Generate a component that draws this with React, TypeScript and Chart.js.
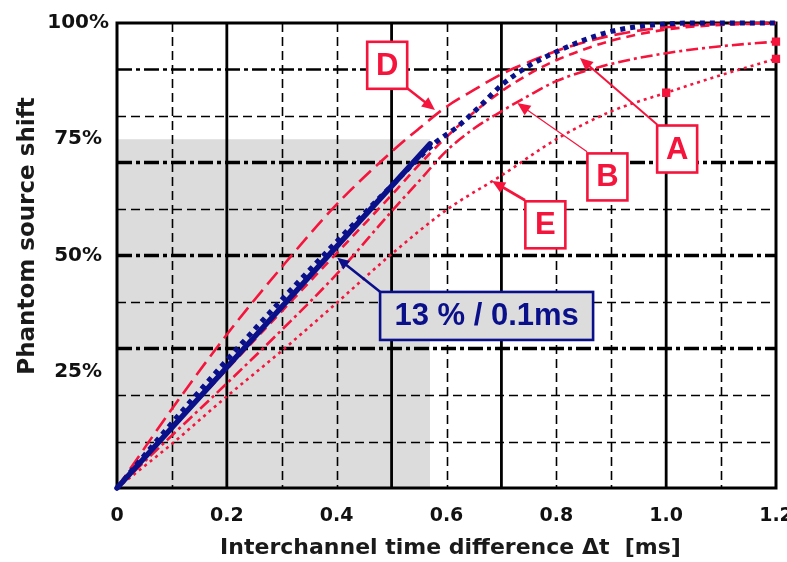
import React, { useEffect, useRef } from 'react';
import { Chart, registerables } from 'chart.js';

Chart.register(...registerables);

// ---- Data ----
const xTicks = [0, 0.2, 0.4, 0.6, 0.8, 1.0, 1.2];
const xTickLabels = ['0', '0.2', '0.4', '0.6', '0.8', '1.0', '1.2'];
const yTicks = [25, 50, 75, 100];
const yTickLabels = ['25%', '50%', '75%', '100%'];

const gridSolidX = [0.2, 0.5, 0.7, 1.0];
const gridDashedX = [0.1, 0.3, 0.4, 0.6, 0.8, 0.9, 1.1];
const gridDashDotY = [30, 50, 70, 90];
const gridDashedY = [10, 20, 40, 60, 80];

const shadeMaxX = 0.57;
const shadeMaxY = 75;

const blueSolidX = [0, 0.57];
const blueSolidY = [0, 74];

const blueDottedX = [0, 0.1, 0.2, 0.3, 0.4, 0.5, 0.58, 0.62, 0.66, 0.7, 0.75, 0.8, 0.85, 0.9, 0.97, 1.05, 1.2];
const blueDottedY = [0, 14, 27.5, 40.5, 53, 65, 74.3, 77.7, 82, 86.6, 90.8, 93.8, 96.3, 98.2, 99.5, 100, 100];

const curveDX = [0, 0.1, 0.2, 0.3, 0.4, 0.5, 0.55, 0.6, 0.65, 0.7, 0.75, 0.8, 0.9, 1.0, 1.1, 1.2];
const curveDY = [0, 17, 33, 47.5, 61, 72.3, 77.3, 82, 85.6, 89, 91.6, 94, 97.3, 99.1, 99.8, 100];

const curveAX = [0, 0.1, 0.2, 0.3, 0.4, 0.5, 0.55, 0.6, 0.65, 0.7, 0.75, 0.8, 0.85, 0.9, 1.0, 1.1, 1.2];
const curveAY = [0, 12.8, 25.5, 38, 50.5, 63, 69.5, 75.5, 80.8, 85.3, 89, 92, 94.3, 96.2, 98.6, 99.6, 99.9];

const curveBX = [0, 0.1, 0.2, 0.3, 0.4, 0.5, 0.55, 0.6, 0.65, 0.7, 0.75, 0.8, 0.9, 1.0, 1.1, 1.2];
const curveBY = [0, 11.3, 22.5, 34, 46, 59.5, 66, 72.5, 77.3, 81, 84.4, 87.5, 91.2, 93.5, 95, 96];

const curveEX = [0, 0.1, 0.2, 0.3, 0.4, 0.5, 0.6, 0.7, 0.8, 0.9, 1.0, 1.1, 1.2];
const curveEY = [0, 9.5, 19.7, 29.5, 39.8, 50.3, 59.8, 67.2, 75, 81, 85, 88.8, 92.3];

const labelNames = ['D', 'A', 'B', 'E'];
const slopeLabel = '13 % / 0.1ms';
const xTitle = 'Interchannel time difference \u0394t  [ms]';
const yTitle = 'Phantom source shift';

// ---- Styles / annotation placement (data coordinates) ----
const NAVY = '#0a0f8a';
const RED = '#f5143c';
const GRAY = '#dcdcdc';

const letterBoxes = [
  { text: 'D', cx: 0.492, cy: 90.9, from: [0.528, 86.0], to: [0.579, 81.3], lw: 2.5 },
  { text: 'A', cx: 1.02, cy: 72.9, from: [0.984, 78.1], to: [0.843, 92.5], lw: 2 },
  { text: 'B', cx: 0.893, cy: 66.9, from: [0.856, 72.3], to: [0.729, 82.8], lw: 1.2 },
  { text: 'E', cx: 0.78, cy: 56.6, from: [0.743, 61.9], to: [0.683, 66.0], lw: 2.8 },
];
const slopeBox = { cx: 0.673, cy: 37.0, w: 213, h: 48, from: [0.479, 42.2], to: [0.401, 49.5] };

const pts = (xs: number[], ys: number[]) => xs.map((x, i) => ({ x, y: ys[i] }));

function drawArrow(ctx: CanvasRenderingContext2D, x1: number, y1: number, x2: number, y2: number, color: string, lw: number, head: number) {
  const ang = Math.atan2(y2 - y1, x2 - x1);
  ctx.save();
  ctx.strokeStyle = color;
  ctx.fillStyle = color;
  ctx.lineWidth = lw;
  ctx.setLineDash([]);
  ctx.beginPath();
  ctx.moveTo(x1, y1);
  ctx.lineTo(x2 - Math.cos(ang) * head * 0.8, y2 - Math.sin(ang) * head * 0.8);
  ctx.stroke();
  ctx.beginPath();
  ctx.moveTo(x2, y2);
  ctx.lineTo(x2 - head * Math.cos(ang) + head * 0.45 * Math.sin(ang), y2 - head * Math.sin(ang) - head * 0.45 * Math.cos(ang));
  ctx.lineTo(x2 - head * Math.cos(ang) - head * 0.45 * Math.sin(ang), y2 - head * Math.sin(ang) + head * 0.45 * Math.cos(ang));
  ctx.closePath();
  ctx.fill();
  ctx.restore();
}

const backdropPlugin = {
  id: 'backdrop',
  beforeDatasetsDraw(chart: any) {
    const { ctx, chartArea: a, scales } = chart;
    const xs = scales.x;
    const ys = scales.y;
    ctx.save();
    // shaded region
    const sx0 = xs.getPixelForValue(0);
    const sx1 = xs.getPixelForValue(shadeMaxX);
    const sy0 = ys.getPixelForValue(shadeMaxY);
    const sy1 = ys.getPixelForValue(0);
    ctx.fillStyle = GRAY;
    ctx.fillRect(sx0, sy0, sx1 - sx0, sy1 - sy0);

    ctx.strokeStyle = '#000';
    // dashed verticals
    ctx.lineWidth = 1.6;
    ctx.setLineDash([9, 5]);
    gridDashedX.forEach((v) => {
      const p = Math.round(xs.getPixelForValue(v)) + 0.5;
      ctx.beginPath(); ctx.moveTo(p, a.top); ctx.lineTo(p, a.bottom); ctx.stroke();
    });
    // dashed horizontals
    gridDashedY.forEach((v) => {
      const p = Math.round(ys.getPixelForValue(v)) + 0.5;
      ctx.beginPath(); ctx.moveTo(a.left, p); ctx.lineTo(a.right, p); ctx.stroke();
    });
    // dash-dot horizontals
    gridDashDotY.forEach((v) => {
      const p = ys.getPixelForValue(v);
      ctx.lineWidth = v === 90 ? 2.6 : 3.6;
      ctx.setLineDash([15, 4, 4, 4]);
      ctx.beginPath(); ctx.moveTo(a.left, p); ctx.lineTo(a.right, p); ctx.stroke();
    });
    // solid verticals
    ctx.setLineDash([]);
    ctx.lineWidth = 2.8;
    gridSolidX.forEach((v) => {
      const p = xs.getPixelForValue(v);
      ctx.beginPath(); ctx.moveTo(p, a.top); ctx.lineTo(p, a.bottom); ctx.stroke();
    });
    // frame
    ctx.lineWidth = 3;
    ctx.strokeRect(a.left, a.top, a.right - a.left, a.bottom - a.top);

    // axis titles
    ctx.fillStyle = '#1a1a1a';
    ctx.font = 'bold 22px "DejaVu Sans", sans-serif';
    ctx.textAlign = 'center';
    ctx.textBaseline = 'middle';
    ctx.fillText(xTitle, (a.left + a.right) / 2 + 4, 548);
    ctx.save();
    ctx.translate(28, 236);
    ctx.rotate(-Math.PI / 2);
    ctx.font = 'bold 23px "DejaVu Sans", sans-serif';
    ctx.fillText(yTitle, 0, 0);
    ctx.restore();
    ctx.restore();
  },
  afterDatasetsDraw(chart: any) {
    const { ctx, scales } = chart;
    const xs = scales.x;
    const ys = scales.y;
    const X = (v: number) => xs.getPixelForValue(v);
    const Y = (v: number) => ys.getPixelForValue(v);
    ctx.save();
    letterBoxes.forEach((b, i) => {
      drawArrow(ctx, X(b.from[0]), Y(b.from[1]), X(b.to[0]), Y(b.to[1]), RED, b.lw, 13);
      const w = 40, h = 47;
      const cx = X(b.cx), cy = Y(b.cy);
      ctx.fillStyle = '#fff';
      ctx.fillRect(cx - w / 2, cy - h / 2, w, h);
      ctx.strokeStyle = RED;
      ctx.lineWidth = 2.6;
      ctx.setLineDash([]);
      ctx.strokeRect(cx - w / 2, cy - h / 2, w, h);
      ctx.fillStyle = RED;
      ctx.font = 'bold 31px "Liberation Sans", Arial, sans-serif';
      ctx.textAlign = 'center';
      ctx.textBaseline = 'middle';
      ctx.fillText(labelNames[i], cx, cy + 1);
    });
    // slope label
    drawArrow(ctx, X(slopeBox.from[0]), Y(slopeBox.from[1]), X(slopeBox.to[0]), Y(slopeBox.to[1]), NAVY, 2.6, 12);
    const cx = X(slopeBox.cx), cy = Y(slopeBox.cy);
    ctx.fillStyle = GRAY;
    ctx.fillRect(cx - slopeBox.w / 2, cy - slopeBox.h / 2, slopeBox.w, slopeBox.h);
    ctx.strokeStyle = NAVY;
    ctx.lineWidth = 2.6;
    ctx.strokeRect(cx - slopeBox.w / 2, cy - slopeBox.h / 2, slopeBox.w, slopeBox.h);
    ctx.fillStyle = NAVY;
    ctx.font = 'bold 31px "Liberation Sans", Arial, sans-serif';
    ctx.textAlign = 'center';
    ctx.textBaseline = 'middle';
    ctx.fillText(slopeLabel, cx, cy + 1);
    ctx.restore();
  },
};

const lastPointRadius = (n: number, extra: number[] = []) => (c: any) =>
  c.dataIndex === n - 1 || extra.includes(c.dataIndex) ? 4 : 0;

export default function App() {
  const ref = useRef<HTMLCanvasElement | null>(null);
  useEffect(() => {
    if (!ref.current) return;
    const common = { pointRadius: 0, fill: false, clip: false as any, cubicInterpolationMode: 'monotone' as const };
    const chart = new Chart(ref.current, {
      type: 'line',
      data: {
        datasets: [
          { ...common, label: 'slope', data: pts(blueSolidX, blueSolidY), borderColor: NAVY, borderWidth: 5.5, borderCapStyle: 'round' },
          { ...common, label: 'blue dotted', data: pts(blueDottedX, blueDottedY), borderColor: NAVY, borderWidth: 5, borderDash: [5, 5] },
          { ...common, label: 'D', data: pts(curveDX, curveDY), borderColor: RED, borderWidth: 2.6, borderDash: [16, 7] },
          { ...common, label: 'A', data: pts(curveAX, curveAY), borderColor: RED, borderWidth: 2.6, borderDash: [9, 6] },
          {
            ...common, label: 'B', data: pts(curveBX, curveBY), borderColor: RED, borderWidth: 2.6, borderDash: [12, 4, 3, 4],
            pointStyle: 'rect', pointRadius: lastPointRadius(curveBX.length), pointBackgroundColor: RED, pointBorderColor: RED,
          },
          {
            ...common, label: 'E', data: pts(curveEX, curveEY), borderColor: RED, borderWidth: 2.6, borderDash: [3, 4],
            pointStyle: 'rect', pointRadius: lastPointRadius(curveEX.length, [10]), pointBackgroundColor: RED, pointBorderColor: RED,
          },
        ] as any,
      },
      options: {
        responsive: true,
        maintainAspectRatio: false,
        animation: false,
        layout: { padding: { left: 0, top: 23, right: 11, bottom: 0 } },
        plugins: { legend: { display: false }, tooltip: { enabled: false } },
        scales: {
          x: {
            type: 'linear', min: 0, max: 1.2,
            grid: { display: false, drawTicks: false },
            border: { display: false },
            afterBuildTicks: (s: any) => { s.ticks = xTicks.map((v) => ({ value: v })); },
            afterFit: (s: any) => { s.height = 74; s.paddingLeft = 0; s.paddingRight = 0; },
            ticks: {
              autoSkip: false, maxRotation: 0, minRotation: 0, padding: 17, color: '#111',
              font: { family: '"DejaVu Sans", sans-serif', size: 19, weight: 'bold' },
              callback: (v: any) => { const i = xTicks.findIndex((t) => Math.abs(t - Number(v)) < 1e-6); return i >= 0 ? xTickLabels[i] : ''; },
            },
          },
          y: {
            type: 'linear', min: 0, max: 100,
            grid: { display: false, drawTicks: false },
            border: { display: false },
            afterBuildTicks: (s: any) => { s.ticks = yTicks.map((v) => ({ value: v })); },
            afterFit: (s: any) => { s.width = 117; s.paddingTop = 0; s.paddingBottom = 0; },
            ticks: {
              autoSkip: false, crossAlign: 'center', padding: 8, color: '#111',
              font: { family: '"DejaVu Sans", sans-serif', size: 20, weight: 'bold' },
              callback: (v: any) => { const i = yTicks.findIndex((t) => Math.abs(t - Number(v)) < 1e-6); return i >= 0 ? yTickLabels[i] : ''; },
            },
          },
        },
      } as any,
      plugins: [backdropPlugin],
    });
    return () => chart.destroy();
  }, []);
  return (
    <div style={{ position: 'fixed', left: 0, top: 0, width: 787, height: 562, background: '#fff' }}>
      <canvas ref={ref} />
    </div>
  );
}
